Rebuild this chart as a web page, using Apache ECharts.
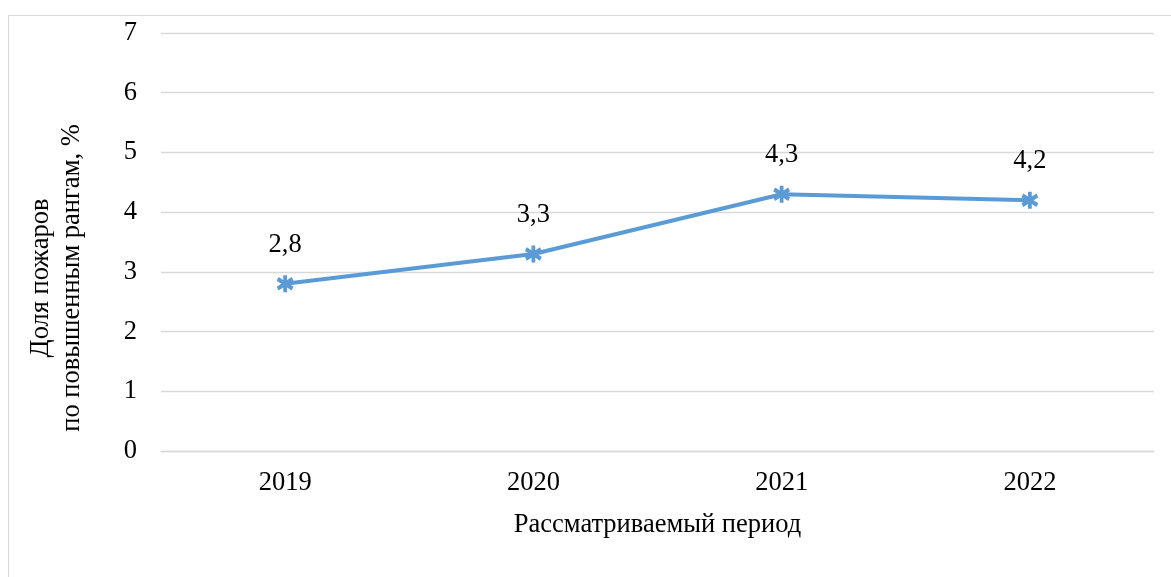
<!DOCTYPE html>
<html>
<head>
<meta charset="utf-8">
<script src="https://cdn.jsdelivr.net/npm/echarts@6/dist/echarts.min.js"></script>
<style>
  html, body { margin: 0; padding: 0; background: #fff; }
  #frame { position: absolute; left: 8px; top: 15px; width: 1170px; height: 570px; border: 1px solid #d9d9d9; box-sizing: border-box; }
  #chart { position: absolute; left: 0; top: 0; width: 1171px; height: 577px; }
</style>
</head>
<body>
<div id="frame"></div>
<div id="chart"></div>
<script>
const years = ['2019', '2020', '2021', '2022'];
const shares = [2.8, 3.3, 4.3, 4.2];
const yTicks = { min: 0, max: 7, interval: 1 };
const xTitle = 'Рассматриваемый период';
const yTitleLines = ['Доля пожаров', 'по повышенным рангам, %'];

const font = '"Liberation Serif", "Times New Roman", serif';
const blue = '#5b9bd5';
const grey = '#d9d9d9';
const fs = 26.5;

// asterisk marker like Excel's "star"
const starPath = 'path://M0,-7L0,7M-6,-4L6,4M-6,4L6,-4';

const chart = echarts.init(document.getElementById('chart'), null, { renderer: 'canvas' });

chart.setOption({
  animation: false,
  backgroundColor: 'transparent',
  textStyle: { fontFamily: font },
  grid: { left: 161, right: 17, top: 33, bottom: 126, containLabel: false },
  xAxis: {
    type: 'category',
    data: years,
    boundaryGap: true,
    name: xTitle,
    nameLocation: 'middle',
    nameGap: 61,
    nameTextStyle: { fontFamily: font, fontSize: fs, color: '#000' },
    axisLine: { show: true, lineStyle: { color: grey, width: 1.3 } },
    axisTick: { show: false },
    axisLabel: { fontFamily: font, fontSize: fs, color: '#000', margin: 19 },
    splitLine: { show: false }
  },
  yAxis: {
    type: 'value',
    min: yTicks.min,
    max: yTicks.max,
    interval: yTicks.interval,
    axisLine: { show: false },
    axisTick: { show: false },
    axisLabel: { fontFamily: font, fontSize: fs, color: '#000', margin: 24 },
    splitLine: { lineStyle: { color: grey, width: 1.3 } }
  },
  graphic: [{
    type: 'text',
    x: 57,
    y: 278,
    rotation: Math.PI / 2,
    style: {
      text: yTitleLines.join('\n'),
      fontFamily: font,
      fontSize: fs,
      lineHeight: 31,
      fill: '#000',
      align: 'center',
      verticalAlign: 'middle'
    }
  }],
  series: [{
    type: 'line',
    data: shares,
    symbol: starPath,
    symbolSize: [15, 17],
    showSymbol: true,
    lineStyle: { color: blue, width: 4 },
    itemStyle: { color: blue, borderColor: blue, borderWidth: 4 },
    label: {
      show: true,
      position: 'top',
      distance: 15,
      fontFamily: font,
      fontSize: fs,
      color: '#000',
      formatter: p => String(p.value).replace('.', ',')
    }
  }]
});
</script>
</body>
</html>
